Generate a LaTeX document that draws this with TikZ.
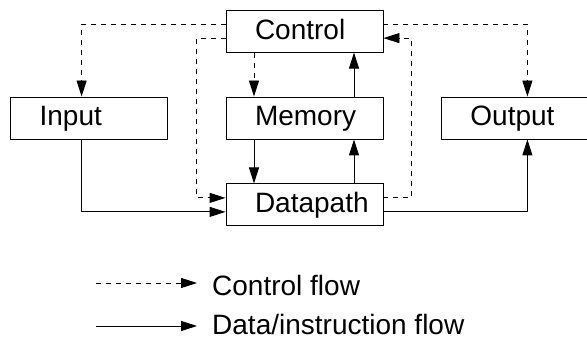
\documentclass[tikz,border=0pt]{standalone}
\usepackage{fontspec}
\setmainfont{Liberation Sans}
\usepackage{tikz}
\usetikzlibrary{arrows.meta,positioning,calc}

\begin{document}
\begin{tikzpicture}[x=1pt,y=1pt,
    font=\fontsize{28}{32}\selectfont,
    node distance=44pt and 57.5pt,
    unit/.style={rectangle,draw=black,line width=0.9pt,minimum height=42pt,
      text width=99pt,inner xsep=29pt,inner ysep=0pt,align=left,
      text height=20pt,text depth=4pt},
    ctrlflow/.style={line width=0.9pt,dash pattern=on 5pt off 5pt,
      -{Triangle[length=16pt,width=10pt]}},
    dataflow/.style={line width=0.9pt,-{Triangle[length=16pt,width=10pt]}},
    legend/.style={anchor=base west,inner xsep=15pt,inner ysep=0pt}]

  \useasboundingbox (0,0) rectangle (587,343);

  \node (memory)   [unit] at (304.5,225)          {Memory};
  \node (control)  [unit,above=of memory]        {Control};
  \node (datapath) [unit,below=of memory]        {Datapath};
  \node (input)    [unit,left=of memory]         {Input};
  \node (output)   [unit,text width=88pt,right=of memory] {Output};

  % control flow
  \draw[ctrlflow] ([yshift=7pt]control.west) -| ([xshift=-7.5pt]input.north);
  \draw[ctrlflow] ([yshift=-7pt]control.west) -- ++(-29,0) |- ([yshift=7pt]datapath.west);
  \draw[ctrlflow] ([xshift=-50.5pt]control.south) -- ([xshift=-50.5pt]memory.north);
  \draw[ctrlflow] ([yshift=7pt]datapath.east) -- ++(28,0) |- ([yshift=-7pt]control.east);
  \draw[ctrlflow] ([yshift=7pt]control.east) -| ([xshift=13pt]output.north);

  % data flow
  \draw[dataflow] ([xshift=-50.5pt]memory.south) -- ([xshift=-50.5pt]datapath.north);
  \draw[dataflow] ([xshift=49.5pt]datapath.north) -- ([xshift=49.5pt]memory.south);
  \draw[dataflow] ([xshift=49.5pt]memory.north) -- ([xshift=49.5pt]control.south);
  \draw[dataflow] ([xshift=-7.5pt]input.south) |- ([yshift=-7pt]datapath.west);
  \draw[dataflow] ([yshift=-7pt]datapath.east) -| ([xshift=13pt]output.south);

  % legend
  \coordinate (ctrlstart) at (96,60);
  \coordinate (datastart) at (96,17);
  \node (ctrllabel) [legend] at (197,47) {Control flow};
  \node (datalabel) [legend] at (197,9)  {Data/instruction flow};
  \draw[ctrlflow] (ctrlstart) -- (ctrlstart -| ctrllabel.west);
  \draw[dataflow] (datastart) -- (datastart -| datalabel.west);

\end{tikzpicture}
\end{document}
